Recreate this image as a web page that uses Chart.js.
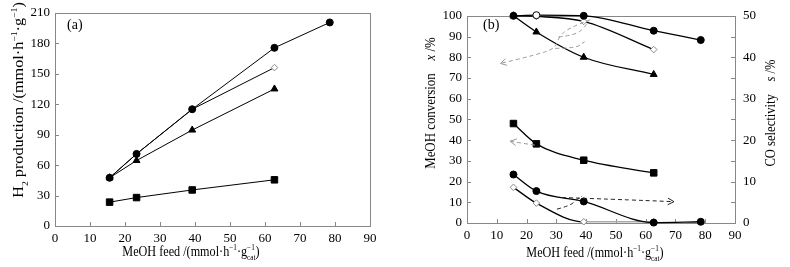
<!DOCTYPE html>
<html>
<head>
<meta charset="utf-8">
<script src="https://cdn.jsdelivr.net/npm/chart.js@4.4.0/dist/chart.umd.min.js"></script>
<style>
html, body { margin: 0; padding: 0; background: #fff; }
#wrapA { position: absolute; left: 0; top: 0; width: 400px; height: 267px; }
#wrapB { position: absolute; left: 400px; top: 0; width: 390px; height: 267px; }
</style>
</head>
<body>
<div id="wrapA"><canvas id="chartA"></canvas></div>
<div id="wrapB"><canvas id="chartB"></canvas></div>
<script>
// MeOH feed, mmol/(h*g_cat)
const feed = [15.6, 23.3, 39.2, 62.7, 78.5];

// (a) H2 production
const h2Circle = [47.5, 71, 115, 175.5, 200.5];
const h2Diamond = [47.5, 71, 115, 156];
const h2Triangle = [47.5, 64.5, 94.5, 135];
const h2Square = [23.5, 28, 35.5, 45.5];

// (b) MeOH conversion (left axis)
const convCircle = [100, 100.3, 100, 92.8, 88.3];
const convDiamond = [100, 99.7, 97.3, 83.7];
const convTriangle = [100, 92.2, 80, 71.7];
const convSquare = [48, 38.2, 30.3, 24.2];

// (b) CO selectivity (right axis)
const selCircle = [11.7, 7.7, 5.2, 0.1, 0.3];
const selDiamond = [8.6, 4.8, 0.3, 0.3];

const xTicks = [0, 10, 20, 30, 40, 50, 60, 70, 80, 90];

// annotation arrows in (feed, conversion) units
const arrowConvMain = [[41.4, 98.1], [34.1, 94.2], [30.7, 89.5], [29.6, 84.1], [22.4, 80.9], [11.2, 77]];
const arrowConvBranch1 = [[30.7, 89.8], [36.4, 90.6], [39.8, 95], [40.8, 97.5]];
const arrowConvBranch2 = [[29.6, 84.3], [36.5, 84.3], [39.5, 87.5]];
const arrowSquare = [[22.8, 37.6], [18, 38.6], [14.5, 39.5]];
const arrowSelMain = [[31.8, 12.3], [50, 11.4], [69.5, 10.3]];
const arrowSelBranch = [[30.2, 6.7], [34.6, 8.3], [36.9, 11.4], [38.6, 13]];

Chart.defaults.font.family = '"Liberation Serif", "Times New Roman", serif';
Chart.defaults.font.size = 13;
Chart.defaults.color = '#000';

const FONT = '"Liberation Serif", "Times New Roman", serif';

function pts(xs, ys) {
    return ys.map((y, i) => ({ x: xs[i], y: y }));
}

function series(data, style, opts) {
    const base = {
        data: data,
        borderColor: '#000',
        borderWidth: 1,
        pointStyle: 'circle',
        pointRadius: 3.5,
        pointBackgroundColor: '#000',
        pointBorderColor: '#000',
        pointBorderWidth: 1,
        fill: false,
        tension: 0,
        clip: false
    };
    if (style === 'square') { base.pointStyle = 'rect'; base.pointRadius = 4.6; }
    if (style === 'triangle') { base.pointStyle = 'triangle'; base.pointRadius = 4; }
    if (style === 'diamond') {
        base.pointStyle = 'rectRot';
        base.pointRadius = 3.3;
        base.pointBackgroundColor = '#fff';
        base.pointBorderColor = '#888';
    }
    return Object.assign(base, opts || {});
}

// text with sub / superscripts
function partFont(size, it) {
    return (it ? 'italic ' : '') + size + 'px ' + FONT;
}

function partWidth(ctx, p, size) {
    if (typeof p === 'string') { ctx.font = partFont(size); return ctx.measureText(p).width; }
    if (p.stack) {
        ctx.font = partFont(size * 0.6);
        return Math.max(ctx.measureText(p.stack[0]).width, ctx.measureText(p.stack[1]).width);
    }
    const s = (p.sup || p.sub) ? size * 0.6 : size;
    ctx.font = partFont(s, p.it);
    return ctx.measureText(p.t).width;
}

function drawRich(ctx, parts, cx, cy, size) {
    let total = 0;
    parts.forEach(p => { total += partWidth(ctx, p, size); });
    let x = cx - total / 2;
    ctx.textAlign = 'left';
    ctx.textBaseline = 'alphabetic';
    ctx.fillStyle = '#000';
    parts.forEach(p => {
        const w = partWidth(ctx, p, size);
        if (typeof p === 'string') {
            ctx.font = partFont(size);
            ctx.fillText(p, x, cy);
        } else if (p.stack) {
            ctx.font = partFont(size * 0.6);
            ctx.fillText(p.stack[0], x, cy - size * 0.4);
            ctx.fillText(p.stack[1], x, cy + size * 0.3);
        } else {
            const s = (p.sup || p.sub) ? size * 0.6 : size;
            ctx.font = partFont(s, p.it);
            let dy = 0;
            if (p.sup) dy = -size * 0.4;
            if (p.sub) dy = size * 0.3;
            ctx.fillText(p.t, x, cy + dy);
        }
        x += w;
    });
}

function curvePath(ctx, p) {
    ctx.beginPath();
    ctx.moveTo(p[0].x, p[0].y);
    for (let i = 1; i < p.length - 1; i++) {
        const mx = (p[i].x + p[i + 1].x) / 2;
        const my = (p[i].y + p[i + 1].y) / 2;
        ctx.quadraticCurveTo(p[i].x, p[i].y, mx, my);
    }
    ctx.lineTo(p[p.length - 1].x, p[p.length - 1].y);
    ctx.stroke();
}

function drawArrow(chart, path, color, head) {
    const ctx = chart.ctx;
    const xs = chart.scales.x, ys = chart.scales.y;
    const p = path.map(q => ({ x: xs.getPixelForValue(q[0]), y: ys.getPixelForValue(q[1]) }));
    ctx.save();
    ctx.strokeStyle = color;
    ctx.lineWidth = 1;
    ctx.setLineDash([4, 3]);
    curvePath(ctx, p);
    if (head) {
        const a = p[p.length - 1], b = p[p.length - 2];
        const ang = Math.atan2(a.y - b.y, a.x - b.x);
        ctx.setLineDash([]);
        ctx.beginPath();
        ctx.moveTo(a.x - 7 * Math.cos(ang - 0.5), a.y - 7 * Math.sin(ang - 0.5));
        ctx.lineTo(a.x, a.y);
        ctx.lineTo(a.x - 7 * Math.cos(ang + 0.5), a.y - 7 * Math.sin(ang + 0.5));
        ctx.stroke();
    }
    ctx.restore();
}

const decor = {
    id: 'decor',
    beforeDatasetsDraw(chart) {
        const ctx = chart.ctx, a = chart.chartArea;
        ctx.save();
        ctx.strokeStyle = '#888';
        ctx.lineWidth = 1;
        ctx.strokeRect(Math.round(a.left) + 0.5, Math.round(a.top) + 0.5,
            Math.round(a.right - a.left), Math.round(a.bottom - a.top));
        ctx.beginPath();
        Object.values(chart.scales).forEach(s => {
            s.ticks.forEach(t => {
                const p = Math.round(s.getPixelForValue(t.value)) + 0.5;
                if (s.isHorizontal()) {
                    if (p <= a.left + 1 || p >= a.right - 1) return;
                    ctx.moveTo(p, a.bottom); ctx.lineTo(p, a.bottom - 4);
                } else {
                    if (p <= a.top + 1 || p >= a.bottom - 1) return;
                    if (s.position === 'left') { ctx.moveTo(a.left, p); ctx.lineTo(a.left + 4, p); }
                    else { ctx.moveTo(a.right, p); ctx.lineTo(a.right - 4, p); }
                }
            });
        });
        ctx.stroke();
        ctx.restore();
    },
    afterDatasetsDraw(chart, args, opts) {
        (opts.arrows || []).forEach(ar => drawArrow(chart, ar.path, ar.color, ar.head));
    },
    afterDraw(chart, args, opts) {
        const ctx = chart.ctx;
        ctx.save();
        (opts.titles || []).forEach(t => {
            ctx.save();
            ctx.translate(t.x, t.y);
            if (t.rot) ctx.rotate(t.rot);
            ctx.scale(t.sx || 1, 1);
            drawRich(ctx, t.parts, 0, 0, t.size);
            ctx.restore();
        });
        if (opts.label) {
            ctx.font = '14px ' + FONT;
            ctx.fillStyle = '#000';
            ctx.textAlign = 'left';
            ctx.textBaseline = 'middle';
            ctx.fillText(opts.label.t, opts.label.x, opts.label.y);
        }
        ctx.restore();
    }
};

const xTitleParts = ['MeOH feed /(mmol·h', { t: '−1', sup: true }, '·g', { stack: ['−1', 'cat'] }, ')'];

const noGrid = { display: false, drawTicks: false };

function xScale(height) {
    return {
        type: 'linear', min: 0, max: 90,
        afterBuildTicks: s => { s.ticks = xTicks.map(v => ({ value: v })); },
        ticks: { padding: 5, maxRotation: 0 },
        grid: noGrid,
        border: { display: false },
        afterFit: s => { s.height = height; }
    };
}

new Chart(document.getElementById('chartA'), {
    type: 'line',
    data: {
        datasets: [
            series(pts(feed, h2Circle), 'circle'),
            series(pts(feed, h2Triangle), 'triangle'),
            series(pts(feed, h2Diamond), 'diamond'),
            series(pts(feed, h2Square), 'square')
        ]
    },
    options: {
        responsive: true,
        maintainAspectRatio: false,
        animation: false,
        layout: { padding: { top: 9, right: 30, left: 0, bottom: 0 } },
        scales: {
            x: xScale(41),
            y: {
                type: 'linear', min: 0, max: 210,
                ticks: { stepSize: 30, padding: 5 },
                grid: noGrid,
                border: { display: false },
                afterFit: s => { s.width = 55; }
            }
        },
        plugins: {
            legend: { display: false },
            tooltip: { enabled: false },
            decor: {
                label: { t: '(a)', x: 67, y: 25 },
                titles: [
                    { x: 191, y: 256, size: 14, sx: 0.87, parts: xTitleParts },
                    { x: 23, y: 100, size: 15, sx: 1.08, rot: -Math.PI / 2,
                      parts: ['H', { t: '2', sub: true }, ' production /(mmol·h', { t: '−1', sup: true }, '·g', { t: '−1', sup: true }, ')'] }
                ]
            }
        }
    },
    plugins: [decor]
});

new Chart(document.getElementById('chartB'), {
    type: 'line',
    data: {
        datasets: [
            series(pts(feed, convCircle), 'circle', {
                borderWidth: 1.3, cubicInterpolationMode: 'monotone',
                pointBackgroundColor: ['#000', '#fff', '#000', '#000', '#000']
            }),
            series(pts(feed, selCircle), 'circle', { yAxisID: 'y2', borderWidth: 1.3, cubicInterpolationMode: 'monotone' }),
            series(pts(feed, convTriangle), 'triangle', { borderWidth: 1.3, cubicInterpolationMode: 'monotone' }),
            series(pts(feed, convDiamond), 'diamond', { borderWidth: 1.3, cubicInterpolationMode: 'monotone' }),
            series(pts(feed, selDiamond), 'diamond', {
                yAxisID: 'y2', borderWidth: 1.3, cubicInterpolationMode: 'monotone',
                segment: { borderColor: c => c.p0DataIndex >= 2 ? '#aaa' : '#000' }
            }),
            series(pts(feed, convSquare), 'square', { borderWidth: 1.3, cubicInterpolationMode: 'monotone' })
        ]
    },
    options: {
        responsive: true,
        maintainAspectRatio: false,
        animation: false,
        layout: { padding: { top: 9, right: 0, left: 0, bottom: 0 } },
        scales: {
            x: xScale(44),
            y: {
                type: 'linear', position: 'left', min: 0, max: 100,
                ticks: { stepSize: 10, padding: 5 },
                grid: noGrid,
                border: { display: false },
                afterFit: s => { s.width = 67; }
            },
            y2: {
                type: 'linear', position: 'right', min: 0, max: 50,
                ticks: { stepSize: 5, padding: 8, callback: v => (v % 10 === 0 ? v : '') },
                grid: noGrid,
                border: { display: false },
                afterFit: s => { s.width = 55; }
            }
        },
        plugins: {
            legend: { display: false },
            tooltip: { enabled: false },
            decor: {
                label: { t: '(b)', x: 83, y: 25 },
                arrows: [
                    { path: arrowConvMain, color: '#999', head: true },
                    { path: arrowConvBranch1, color: '#999', head: false },
                    { path: arrowConvBranch2, color: '#999', head: false },
                    { path: arrowSquare, color: '#999', head: true },
                    { path: arrowSelMain, color: '#222', head: true },
                    { path: arrowSelBranch, color: '#222', head: false }
                ],
                titles: [
                    { x: 195, y: 257, size: 14, sx: 0.87, parts: xTitleParts },
                    { x: 35, y: 103, size: 14, sx: 0.92, rot: -Math.PI / 2,
                      parts: ['MeOH conversion    ', { t: 'x', it: true }, ' /%'] },
                    { x: 375, y: 113, size: 14, sx: 0.9, rot: -Math.PI / 2,
                      parts: ['CO selectivity    ', { t: 's', it: true }, ' /%'] }
                ]
            }
        }
    },
    plugins: [decor]
});
</script>
</body>
</html>
